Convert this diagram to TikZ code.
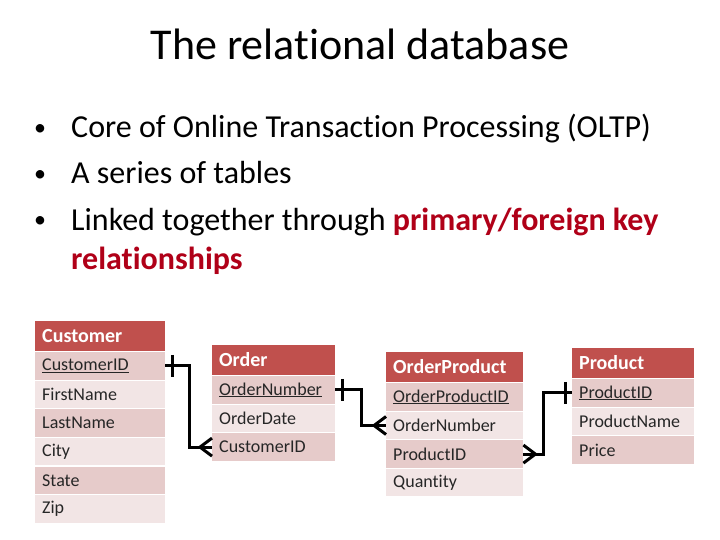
\documentclass[tikz,border=0pt]{standalone}
\usepackage{fontspec}
\setmainfont{Carlito}[Ligatures=NoCommon]
\usepackage{xcolor}
\usetikzlibrary{calc}

\definecolor{hdrred}{HTML}{C0504D}
\definecolor{rowdark}{HTML}{E6CBCA}
\definecolor{rowlight}{HTML}{F2E5E5}
\definecolor{keyred}{HTML}{B00018}

\begin{document}
\begin{tikzpicture}[x=1pt,y=-1pt,
  hdr/.style={rectangle,fill=hdrred,text=white,anchor=north west,inner xsep=7pt,
    minimum height=29.5pt,font=\fontsize{20}{20}\selectfont\bfseries,align=left},
  fld/.style={rectangle,anchor=north west,inner xsep=7pt,minimum height=27.4pt,
    font=\fontsize{18}{18}\selectfont,text=black!85,align=left},
  bul/.style={anchor=base west,inner sep=0pt,font=\fontsize{32}{32}\selectfont},
  dot/.style={anchor=base west,inner sep=0pt,font=\fontsize{24}{24}\selectfont},
  link/.style={line width=3pt,black}]
\useasboundingbox (0,0) rectangle (720,540);
% ---- titolo e punti ----
\node[anchor=base,inner sep=0pt,font=\fontsize{44}{44}\selectfont] (title) at (360,60) {The relational database};
\node[dot] (b1) at (34,136) {•};
\node[bul] (t1) at (71,138) {Core of Online Transaction Processing (OLTP)};
\node[dot] (b2) at (34,182) {•};
\node[bul] (t2) at (71,184) {A series of tables};
\node[dot] (b3) at (34,228) {•};
\node[bul] (t3) at (71,230) {Linked together through \textcolor{keyred}{\bfseries primary/foreign key}};
\node[bul,text=keyred,font=\fontsize{32}{32}\selectfont\bfseries] (t4) at (71,269) {relationships};
% ---- tabella Customer ----
\node[hdr,text width=116pt] (cust-hd) at (35,321) {Customer};
\foreach \f [count=\i] in {{\underline{CustomerID}},FirstName,LastName,City,State,Zip}{
  \ifodd\i\def\rowfill{rowdark}\else\def\rowfill{rowlight}\fi
  \node[fld,fill=\rowfill,text width=116pt] (cust-\i) at (35,{352+28.6*(\i-1)}) {\f};
}
% ---- tabella Order ----
\node[hdr,text width=109pt] (ord-hd) at (212,345) {Order};
\foreach \f [count=\i] in {{\underline{OrderNumber}},OrderDate,CustomerID}{
  \ifodd\i\def\rowfill{rowdark}\else\def\rowfill{rowlight}\fi
  \node[fld,fill=\rowfill,text width=109pt] (ord-\i) at (212,{376+28.6*(\i-1)}) {\f};
}
% ---- tabella OrderProduct ----
\node[hdr,text width=123pt] (op-hd) at (386,352) {OrderProduct};
\foreach \f [count=\i] in {{\underline{OrderProductID}},OrderNumber,ProductID,Quantity}{
  \ifodd\i\def\rowfill{rowdark}\else\def\rowfill{rowlight}\fi
  \node[fld,fill=\rowfill,text width=123pt] (op-\i) at (386,{383+28.6*(\i-1)}) {\f};
}
% ---- tabella Product ----
\node[hdr,text width=108pt] (prod-hd) at (572,348) {Product};
\foreach \f [count=\i] in {{\underline{ProductID}},ProductName,Price}{
  \ifodd\i\def\rowfill{rowdark}\else\def\rowfill{rowlight}\fi
  \node[fld,fill=\rowfill,text width=108pt] (prod-\i) at (572,{379+28.6*(\i-1)}) {\f};
}
% ---- relazioni: uno (tacca) a molti (zampa di gallina) ----
\draw[link] (cust-1.east) -- ++(24,0) |- (ord-3.west);
\draw[link] ($(cust-1.east)+(7,-11)$) -- ++(0,22);
\draw[link] ($(ord-3.west)+(0,-9)$) -- ($(ord-3.west)+(-12,0)$) -- ($(ord-3.west)+(0,9)$);

\draw[link] (ord-1.east) -- ++(26,0) |- (op-2.west);
\draw[link] ($(ord-1.east)+(7,-11)$) -- ++(0,22);
\draw[link] ($(op-2.west)+(0,-9)$) -- ($(op-2.west)+(-12,0)$) -- ($(op-2.west)+(0,9)$);

\draw[link] (op-3.east) -- ++(20,0) |- (prod-1.west);
\draw[link] ($(prod-1.west)+(-7,-11)$) -- ++(0,22);
\draw[link] ($(op-3.east)+(0,-9)$) -- ($(op-3.east)+(12,0)$) -- ($(op-3.east)+(0,9)$);
\end{tikzpicture}
\end{document}
